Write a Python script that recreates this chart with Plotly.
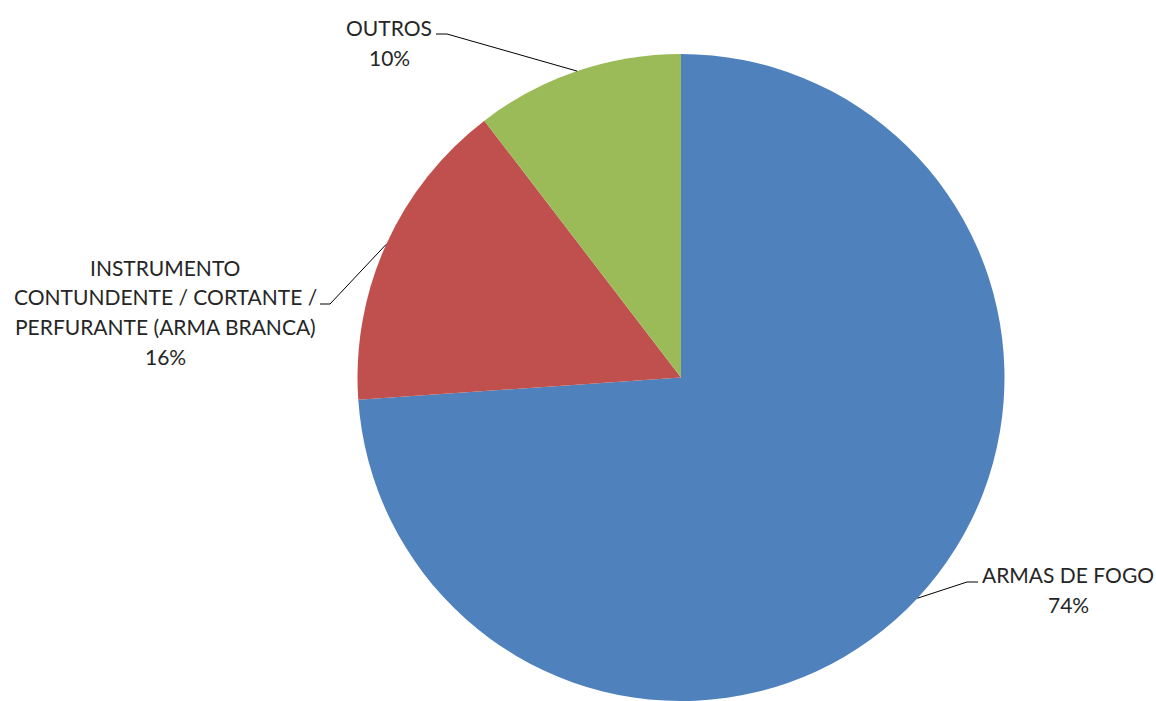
import math
import plotly.graph_objects as go

# ---- data ----
categories = ["ARMAS DE FOGO",
              "INSTRUMENTO CONTUNDENTE / CORTANTE / PERFURANTE (ARMA BRANCA)",
              "OUTROS"]
values = [73.9, 15.7, 10.4]
label_lines = [["ARMAS DE FOGO"],
               ["INSTRUMENTO", "CONTUNDENTE / CORTANTE /", "PERFURANTE (ARMA BRANCA)"],
               ["OUTROS"]]
colors = ["#4F81BD", "#C0504D", "#9BBB59"]

# ---- layout geometry (pixels) ----
W, H = 1156, 701
ML, MR, MT, MB = 206, 0, 54, 0
PW, PH = W - ML - MR, H - MT - MB
CX, CY = ML + PW / 2, MT + PH / 2
R = min(PW, PH) / 2

# label placement: centre x, first-line y, knee point, horizontal end
label_pos = [
    dict(x=1068, y=574.5, knee=(967, 582), end=(978, 582)),
    dict(x=165, y=267.5, knee=(330, 304), end=(320, 304)),
    dict(x=389, y=28, knee=(447, 34), end=(436, 34)),
]
LINE_GAP = 29.5
FONT = dict(family="Lato, 'Open Sans', sans-serif", size=21, color="#262626")


def px2paper(px, py):
    return (px - ML) / PW, 1 - (py - MT) / PH


fig = go.Figure(go.Pie(
    labels=categories, values=values, sort=False, direction="clockwise",
    rotation=0, marker=dict(colors=colors, line=dict(width=0)),
    textinfo="none", hoverinfo="label+percent", showlegend=False,
))

total = sum(values)
annotations, shapes = [], []
cum = 0.0
for cat_lines, v, pos in zip(label_lines, values, label_pos):
    mid = (cum + v / 2) / total * 2 * math.pi
    cum += v
    ex, ey = CX + R * math.sin(mid), CY - R * math.cos(mid)
    pct = f"{round(v / total * 100)}%"
    lines = cat_lines + [pct]
    for i, t in enumerate(lines):
        ax, ay = px2paper(pos["x"], pos["y"] + i * LINE_GAP)
        annotations.append(dict(text=t, x=ax, y=ay, xref="paper", yref="paper",
                                showarrow=False, xanchor="center", yanchor="middle",
                                font=FONT))
    p0 = px2paper(ex, ey)
    p1 = px2paper(*pos["knee"])
    p2 = px2paper(*pos["end"])
    shapes.append(dict(type="path", xref="paper", yref="paper",
                       path=f"M {p0[0]},{p0[1]} L {p1[0]},{p1[1]} L {p2[0]},{p2[1]}",
                       line=dict(color="#000000", width=1)))

fig.update_layout(
    width=W, height=H, margin=dict(l=ML, r=MR, t=MT, b=MB, pad=0),
    paper_bgcolor="white", plot_bgcolor="white",
    annotations=annotations, shapes=shapes,
)
fig.write_html("out.html")
